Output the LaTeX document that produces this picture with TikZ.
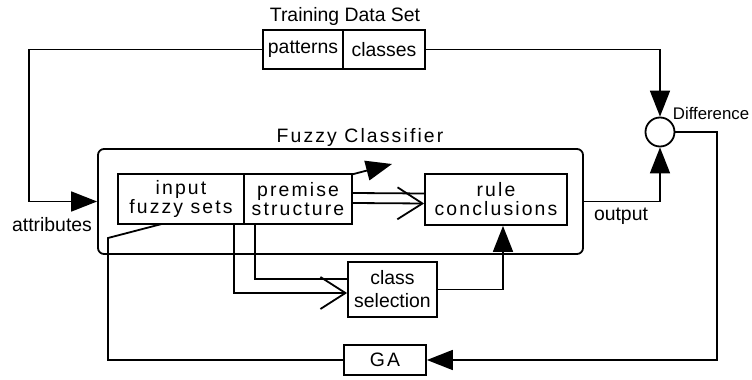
\documentclass[tikz,border=0pt]{standalone}
\usepackage{fontspec}
\setmainfont{Liberation Sans}
\newfontfamily\spfont[LetterSpace=11]{Liberation Sans}
\usetikzlibrary{arrows.meta,calc}

\begin{document}
\begin{tikzpicture}[x=0.5pt,y=-0.5pt,line width=0.9pt]
  \tikzset{lbl/.style={inner sep=0pt,font=\fontsize{9.7}{9.7}\selectfont},
           box/.style={lbl,draw,align=center},
           inbox/.style={box,fill=white,font=\spfont\fontsize{9.7}{9.5}\selectfont},
           tri/.style={-{Triangle[length=13pt,width=10pt]}},
           barb/.style={-{Straight Barb[length=12.5pt,width=16pt]}}}
  \useasboundingbox (0,0) rectangle (752,380);
  \node[lbl] (tds) at (345,16) {Training Data Set};
  \node[box,minimum width=40pt,minimum height=19.5pt] (pat) at (303,49.5) {patterns};
  \node[box,minimum width=41pt,minimum height=19.5pt] (cls) at (384,49.5) {classes};
  \node[draw,circle,minimum size=14.5pt,inner sep=0pt] (diff) at (660,132) {};
  \node[lbl,anchor=west,font=\fontsize{8.4}{9}\selectfont] (difftxt) at (672,113) {Difference};
  \node[draw,rounded corners=3pt,minimum width=242.5pt,minimum height=52.5pt] (outer) at (340.5,201.5) {};
  \node[lbl,font=\spfont\fontsize{9.7}{9.7}\selectfont] (fc) at (360,137) {Fuzzy Classifier};
  \node[lbl] (attr) at (52,225) {attributes};
  \node[lbl] (out) at (621,216) {output};
  \node[inbox,minimum width=44.5pt,minimum height=27.5pt,font=\fontsize{9.7}{11.5}\selectfont] (csel) at (392.5,289.5) {class\\selection};
  \node[inbox,minimum width=41pt,minimum height=15pt] (ga) at (385,360) {GA};
  \coordinate (lft) at (29,201.5);
  \coordinate (rgt) at (717,360);
  \coordinate (gaup) at (108,238);
  \coordinate (tune) at (392,164);
  \draw[tri] (ga.west) -| (gaup) -- (tune);
  \node[inbox,minimum width=63pt,minimum height=25pt] (inp) at (181,199) {input\\fuzzy sets};
  \node[inbox,minimum width=54pt,minimum height=25pt] (prem) at (298,199) {premise\\structure};
  \node[inbox,minimum width=71pt,minimum height=25.5pt] (rule) at (496,199.5) {rule\\conclusions};
  \draw[tri] (pat.west) -| (lft) -- (outer.west);
  \draw[tri] (cls.east) -| (diff.north);
  \draw[tri] (outer.east) -| (diff.south);
  \draw[tri] (diff.east) -| (rgt) -- (ga.east);
  \draw ($(prem.east)+(0,-6)$) -- ($(rule.west)+(0,-6)$);
  \draw[barb] ($(prem.east)+(0,4)$) -- ($(rule.west)+(0,4)$);
  \draw ($(prem.south west)+(12,0)$) |- ($(csel.west)+(0,-10.5)$);
  \draw[barb] ($(inp.south east)+(-11,0)$) |- ($(csel.west)+(0,3.5)$);
  \draw[tri] (csel.east) -| ($(rule.south)+(7,0)$);
\end{tikzpicture}
\end{document}
